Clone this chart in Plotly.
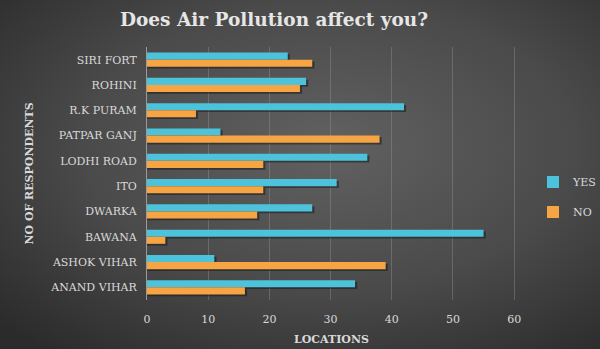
import base64
import plotly.graph_objects as go

locations = ["ANAND VIHAR", "ASHOK VIHAR", "BAWANA", "DWARKA", "ITO",
             "LODHI ROAD", "PATPAR GANJ", "R.K PURAM", "ROHINI", "SIRI FORT"]
yes_vals = [34, 11, 55, 27, 31, 36, 12, 42, 26, 23]
no_vals = [16, 39, 3, 18, 19, 19, 38, 8, 25, 27]
x_ticks = [0, 10, 20, 30, 40, 50, 60]

W, H = 600, 349
ML, MR, MT, MB = 147, 84, 47, 49
PW, PH = W - ML - MR, H - MT - MB

FONT = "DejaVu Serif"
TXT = "#d9d9d9"
YES_C, NO_C = "#4CC3DA", "#F7A444"
BW = 0.28          # bar thickness in category units
SH_DY = 0.07       # shadow drop
SH_DX = 0.35       # shadow extension (value units)

svg = f'''<svg xmlns="http://www.w3.org/2000/svg" width="{W}" height="{H}" viewBox="0 0 {W} {H}" preserveAspectRatio="none">
<defs><radialGradient id="g" cx="55%" cy="42%" r="75%">
<stop offset="0%" stop-color="#616161"/>
<stop offset="55%" stop-color="#4a4a4a"/>
<stop offset="100%" stop-color="#2b2b2b"/>
</radialGradient></defs>
<rect width="{W}" height="{H}" fill="url(#g)"/>
</svg>'''
bg_uri = "data:image/svg+xml;base64," + base64.b64encode(svg.encode()).decode()

fig = go.Figure()
# soft drop shadows
for vals, off in ((yes_vals, 0.0), (no_vals, -BW)):
    fig.add_trace(go.Bar(y=locations, x=[v + SH_DX for v in vals],
                         orientation="h", width=BW, offset=off - SH_DY,
                         marker=dict(color="rgba(20,20,20,0.5)", line=dict(width=0)),
                         showlegend=False, hoverinfo="skip"))
fig.add_trace(go.Bar(y=locations, x=yes_vals, name="YES", orientation="h",
                     width=BW, offset=0.0, legendgroup="yes",
                     marker=dict(color=YES_C, line=dict(width=0))))
fig.add_trace(go.Bar(y=locations, x=no_vals, name="NO", orientation="h",
                     width=BW, offset=-BW, legendgroup="no",
                     marker=dict(color=NO_C, line=dict(width=0))))

fig.update_layout(
    width=W, height=H,
    margin=dict(l=ML, r=MR, t=MT, b=MB, autoexpand=False),
    barmode="overlay",
    paper_bgcolor="#3e3e3e", plot_bgcolor="rgba(0,0,0,0)",
    font=dict(family=FONT, color=TXT, size=11),
    title=dict(text="<b>Does Air Pollution affect you?</b>",
               x=274 / W, xanchor="center", y=1 - 20 / H, yanchor="middle",
               font=dict(family=FONT, size=18.5, color="#e6e6e6")),
    xaxis=dict(range=[0, 60.3], tickvals=x_ticks, showgrid=True,
               gridcolor="rgba(150,150,150,0.4)", gridwidth=1,
               zeroline=False, showline=False, ticks="outside", ticklen=9,
               tickcolor="rgba(0,0,0,0)",
               tickfont=dict(family=FONT, size=11, color=TXT),
               title=dict(text="<b>LOCATIONS</b>", standoff=10,
                          font=dict(family=FONT, size=11, color=TXT))),
    yaxis=dict(showgrid=False, zeroline=False, showline=True,
               linecolor="#9a9a9a", linewidth=1, ticks="",
               ticksuffix="  ",
               tickfont=dict(family=FONT, size=11, color=TXT),
               title=dict(text="<b>NO OF RESPONDENTS</b>", standoff=14,
                          font=dict(family=FONT, size=11, color=TXT))),
    legend=dict(traceorder="grouped", x=(533 - ML) / PW,
                xanchor="left", y=1 - (197 - MT) / PH, yanchor="middle",
                font=dict(family=FONT, size=11, color=TXT),
                bgcolor="rgba(0,0,0,0)", itemwidth=30, tracegroupgap=11),
    images=[dict(source=bg_uri, xref="paper", yref="paper",
                 x=-ML / PW, y=1 + MT / PH, sizex=W / PW, sizey=H / PH,
                 xanchor="left", yanchor="top", sizing="stretch",
                 layer="below")],
    showlegend=True,
)

fig.write_html("out.html")
